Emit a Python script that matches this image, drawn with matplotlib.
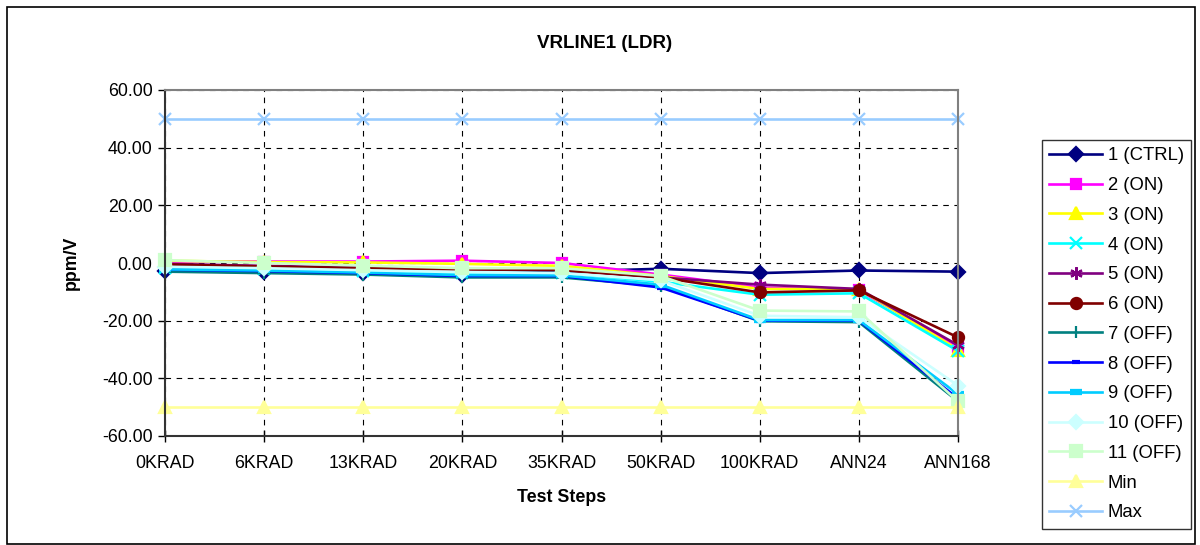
import numpy as np
import matplotlib.pyplot as plt
from matplotlib.patches import Rectangle
from matplotlib.ticker import FormatStrFormatter

plt.rcParams['font.family'] = ['Liberation Sans', 'DejaVu Sans']
plt.rcParams['axes.unicode_minus'] = False

steps = ["0KRAD", "6KRAD", "13KRAD", "20KRAD", "35KRAD", "50KRAD", "100KRAD", "ANN24", "ANN168"]

ctrl_1 = [-2.8, -3.2, -3.5, -4.0, -3.0, -2.0, -3.5, -2.6, -3.0]
on_2 = [0.5, 0.5, 0.5, 0.8, 0.0, -4.0, -8.5, -9.5, -29.0]
on_3 = [0.8, 0.3, 0.2, -0.3, -1.0, -4.5, -9.0, -9.0, -30.0]
on_4 = [-1.8, -2.2, -2.8, -3.5, -3.5, -6.5, -11.0, -10.5, -30.5]
on_5 = [-0.3, -1.0, -1.5, -2.0, -2.3, -5.0, -7.5, -9.0, -28.5]
on_6 = [-0.5, -1.2, -1.8, -2.2, -2.5, -5.0, -10.2, -9.5, -25.8]
off_7 = [-3.0, -3.5, -4.0, -5.0, -5.0, -8.0, -20.2, -20.5, -48.0]
off_8 = [-2.3, -2.8, -3.5, -4.5, -4.5, -8.5, -20.0, -20.0, -47.0]
off_9 = [-2.2, -2.6, -3.3, -4.2, -4.3, -7.5, -19.8, -19.8, -45.5]
off_10 = [-1.3, -1.8, -2.5, -3.2, -3.5, -6.0, -18.3, -18.8, -42.5]
off_11 = [1.0, 0.0, -0.9, -1.8, -1.8, -4.5, -16.5, -16.8, -48.0]
lim_min = [-50] * 9
lim_max = [50] * 9

series = [
    ("1 (CTRL)", ctrl_1, "#000080", "D", 7),
    ("2 (ON)", on_2, "#FF00FF", "s", 7),
    ("3 (ON)", on_3, "#FFFF00", "^", 8),
    ("4 (ON)", on_4, "#00FFFF", "x", 8),
    ("5 (ON)", on_5, "#800080", (6, 2, 0), 9),
    ("6 (ON)", on_6, "#800000", "o", 8),
    ("7 (OFF)", off_7, "#008080", "|", 9),
    ("8 (OFF)", off_8, "#0000FF", "_", 6),
    ("9 (OFF)", off_9, "#00CCFF", "_", 9),
    ("10 (OFF)", off_10, "#CCFFFF", "D", 7),
    ("11 (OFF)", off_11, "#CCFFCC", "s", 8),
    ("Min", lim_min, "#FFFF99", "^", 8),
    ("Max", lim_max, "#99CCFF", "x", 8),
]

fig = plt.figure(figsize=(12, 5.45), dpi=100)
ax = fig.add_axes([165 / 1200, 1 - 436 / 545, (958 - 165) / 1200, (436 - 90) / 545])

x = np.arange(len(steps))
for name, vals, col, mk, ms in series:
    mew = 1.6
    if mk == "_":
        mew = 3 if ms < 8 else 4.5
    ax.plot(x, vals, color=col, lw=1.9, marker=mk, ms=ms,
            mfc=col, mec=col, mew=mew, label=name, clip_on=False)

ax.set_xlim(0, len(steps) - 1)
ax.set_ylim(-60, 60)
ax.set_yticks(np.arange(-60, 61, 20))
ax.yaxis.set_major_formatter(FormatStrFormatter("%.2f"))
ax.set_xticks(x)
ax.set_xticklabels(steps)
ax.tick_params(axis='y', direction='out', length=5, width=1, labelsize=12.8, pad=4)
ax.tick_params(axis='x', direction='inout', length=8, width=1, labelsize=12.8, pad=10)

ax.grid(True, color="black", ls=(0, (5, 5)), lw=0.8)
ax.set_axisbelow(True)

ax.spines['top'].set_color("#808080")
ax.spines['right'].set_color("#808080")
ax.spines['top'].set_linewidth(1.5)
ax.spines['right'].set_linewidth(1.5)
ax.spines['left'].set_color("#333333")
ax.spines['bottom'].set_color("#333333")
ax.spines['left'].set_linewidth(1.5)
ax.spines['bottom'].set_linewidth(1.5)

fig.text(605 / 1200, 1 - 43 / 545, "VRLINE1 (LDR)", fontsize=13.5,
         fontweight="bold", ha="center", va="center")
ax.set_xlabel("Test Steps", fontsize=12.8, fontweight="bold", labelpad=12)
ax.set_ylabel("ppm/V", fontsize=12.8, fontweight="bold", labelpad=16)

leg = ax.legend(loc="upper left", bbox_to_anchor=(1042 / 1200, 1 - 140 / 545),
                bbox_transform=fig.transFigure, fontsize=13.3, frameon=True,
                fancybox=False, edgecolor="black", handlelength=2.85,
                labelspacing=0.69, borderpad=0.4, handletextpad=0.3,
                borderaxespad=0)
leg.get_frame().set_linewidth(1)

# outer chart border
fig.patches.append(Rectangle((7 / 1200, 1 / 545), 1188 / 1200, 537 / 545,
                             transform=fig.transFigure, fill=False,
                             edgecolor="black", lw=1.2))

fig.savefig("out.png", dpi=100)
